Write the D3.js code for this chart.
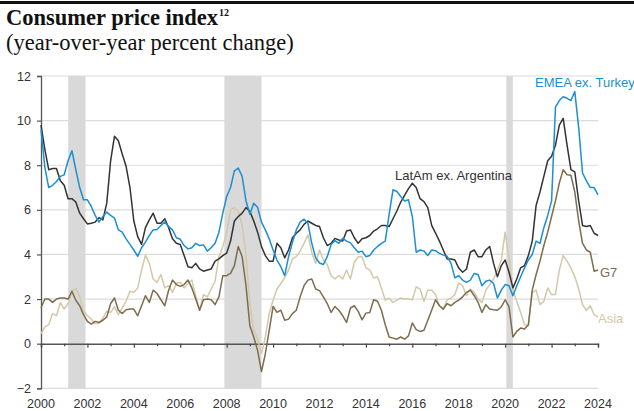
<!DOCTYPE html>
<html>
<head>
<meta charset="utf-8">
<script src="https://cdn.jsdelivr.net/npm/d3@7"></script>
<style>
  html, body { margin: 0; padding: 0; background: #fff; }
  svg { display: block; }
</style>
</head>
<body>
<svg id="chart" width="634" height="411"></svg>
<script>
// ---- Data (bi-monthly samples, Jan 2000 ... Jan 2024) ----
const startYear = 2000;
const stepYears = 1 / 6;

const latam = [
  9.8, 8.7, 7.8, 7.85, 7.85, 7.3,
  7.1, 6.5, 6.5, 6.35, 5.85, 5.6,
  5.37, 5.4, 5.45, 5.65, 5.55, 6.3,
  8.2, 9.3, 9.1, 8.5, 7.95, 7.0,
  5.5, 4.8, 4.45, 5.2, 5.55, 5.85,
  5.4, 5.4, 5.6, 5.2, 4.7, 4.5,
  4.45, 3.95, 3.45, 3.4, 3.6, 3.35,
  3.25, 3.3, 3.35, 3.7, 3.8, 3.95,
  4.06, 4.6, 5.5, 5.7, 5.85, 6.1,
  5.93, 5.5, 5.0, 4.35, 3.95, 3.7,
  3.7, 4.5, 4.3, 3.85, 4.2, 4.75,
  4.95, 5.1, 5.35, 5.5, 5.4, 5.3,
  5.25, 4.75, 4.4, 4.5, 4.72, 4.65,
  4.6, 5.05, 5.1, 4.75, 4.5, 4.7,
  4.75, 4.85, 5.05, 5.15, 5.3, 5.3,
  5.25, 5.6, 5.95, 6.35, 6.65, 6.95,
  7.19, 7.0, 6.5, 6.37, 6.1, 5.3,
  4.96, 4.6, 4.2, 3.8, 3.8, 3.75,
  3.39, 3.2, 3.35, 4.1, 4.2, 3.9,
  3.9, 4.2, 4.36, 3.6, 3.0, 3.5,
  3.75, 3.2, 2.5, 2.9, 3.4, 3.5,
  3.95, 4.6, 6.2, 6.8, 7.5, 8.2,
  8.4, 8.9, 9.8, 10.1, 8.9, 7.8,
  7.7, 6.4, 5.3, 5.25, 5.3, 4.95,
  4.85
];

const emea = [
  9.6, 7.9, 7.0, 7.1, 7.27, 7.5,
  7.57, 8.2, 8.65, 7.8, 7.0, 6.45,
  6.45, 6.15, 5.75, 5.45, 5.7, 5.9,
  5.75, 5.63, 5.1, 5.0, 4.7, 4.45,
  4.2, 3.92, 4.3, 4.55, 4.85, 5.1,
  5.12, 5.3, 5.45, 5.25, 5.1, 4.75,
  4.68, 4.4, 4.25, 4.3, 4.5, 4.4,
  4.43, 4.15, 4.3, 4.5, 5.0, 5.85,
  6.6, 7.0, 7.75, 7.87, 7.5, 6.4,
  5.8, 6.3, 6.1, 5.45, 5.1, 4.7,
  4.2, 3.75, 3.45, 3.05, 3.9, 4.55,
  5.1, 5.45, 5.58, 5.4, 4.5, 3.85,
  3.62, 3.55, 3.9, 4.45, 4.62, 4.5,
  4.72, 4.6, 4.52, 4.3, 4.1, 4.15,
  3.9, 3.95, 4.2, 4.36, 4.5, 4.6,
  5.8, 6.9, 6.82, 6.6, 6.4, 6.45,
  5.7, 4.1, 4.2, 4.15, 3.95, 4.2,
  4.17, 4.05, 3.97, 3.92, 3.6, 2.95,
  3.05, 2.85, 2.75, 2.85, 3.15, 3.1,
  2.6, 2.8, 2.85, 2.7, 2.05, 2.4,
  2.65, 2.6, 2.15, 2.6, 3.0, 3.4,
  3.75, 4.0, 4.6, 4.5, 5.2, 5.75,
  6.4, 10.6, 10.9, 11.07, 11.0, 10.9,
  11.3, 9.7, 7.65, 7.3, 7.0, 7.0,
  6.67
];

const g7 = [
  1.6, 2.0, 2.0, 1.85, 2.0, 2.05,
  2.05, 2.0, 2.35, 1.95, 1.7, 1.3,
  1.0, 0.88, 1.0, 0.95, 1.05, 1.2,
  1.8, 2.05, 1.5, 1.35, 1.52, 1.55,
  1.55, 1.25, 1.7, 2.15, 1.85, 2.4,
  2.25, 1.97, 1.7, 2.4, 2.85, 2.65,
  2.57, 2.65, 2.85, 2.5, 2.0, 1.5,
  1.97, 2.0, 1.97, 1.75, 2.1, 3.05,
  3.05, 3.15, 3.5, 4.36, 3.9, 2.6,
  0.8, 0.3, -0.3, -1.25, -0.45, 0.6,
  1.67, 1.4, 1.5, 1.05, 1.1, 1.35,
  1.5, 2.1, 2.6, 2.85, 2.9, 2.45,
  2.38, 2.1, 1.8, 1.4, 1.67, 1.5,
  1.25, 0.95, 1.6, 1.7, 1.45, 1.07,
  1.37, 1.4, 1.97, 1.9, 1.5, 0.85,
  0.3, 0.25, 0.2, 0.3, 0.2, 0.35,
  0.93, 0.63, 0.55, 0.6, 1.05, 1.5,
  1.97, 1.7, 1.55, 1.8, 1.7, 1.85,
  1.95, 2.1, 2.3, 2.4, 2.15, 1.85,
  1.4, 1.75, 1.55, 1.52, 1.5, 1.65,
  1.97, 1.65, 0.3, 0.55, 0.7, 0.66,
  0.85, 2.4, 3.1, 3.7, 4.4, 5.0,
  5.7, 6.4, 7.2, 7.8, 7.57, 7.55,
  6.8, 5.5, 4.5, 4.2, 4.1, 3.25,
  3.3
];

const asia = [
  0.45, 0.75, 0.85, 1.35, 1.25, 1.85,
  1.55, 1.8, 2.35, 2.48, 2.1, 1.45,
  1.25, 1.1, 0.9, 0.92, 1.15, 1.45,
  1.4, 1.65, 1.3, 1.6, 1.9, 2.35,
  2.3, 2.5, 3.3, 3.97, 3.6, 2.9,
  2.75, 3.1, 2.5, 2.6, 2.3, 2.7,
  2.75, 2.5, 2.7, 2.85, 2.15, 1.5,
  2.2, 2.1, 2.45, 2.8, 3.9, 4.35,
  5.0, 6.0, 6.1, 5.93, 5.3, 3.9,
  1.82, 0.6, 0.2, -0.45, 0.3, 1.35,
  1.95, 2.45, 2.7, 2.95, 3.3, 3.8,
  3.9, 4.15, 4.5, 4.88, 4.1, 3.6,
  4.2, 3.75, 3.55, 3.05, 2.9, 3.05,
  2.9, 3.3, 2.9, 3.65, 3.9, 3.9,
  3.4, 3.31, 2.94, 3.0, 2.5, 1.95,
  2.04, 1.85, 1.95, 2.05, 2.0, 2.0,
  1.97, 2.55, 2.45, 1.9, 2.4, 2.4,
  2.2, 1.7, 1.55, 1.97, 2.05, 2.2,
  2.72, 2.6, 2.15, 2.45, 2.3, 2.0,
  1.85, 2.4, 2.65, 2.9, 3.3, 3.75,
  5.0, 3.8, 2.4, 1.9, 1.4, 0.85,
  0.8, 2.3, 2.4, 1.75, 1.9, 2.5,
  2.2, 2.2, 3.3, 3.95, 3.7, 3.4,
  3.0, 2.45, 1.75, 1.5, 1.7, 1.3,
  1.2
];

const recessions = [[2001.17, 2001.92], [2007.9, 2009.5], [2020.05, 2020.33]];
const yTicks = [-2, 0, 2, 4, 6, 8, 10, 12];
const xLabelYears = [2000, 2002, 2004, 2006, 2008, 2010, 2012, 2014, 2016, 2018, 2020, 2022, 2024];

const seriesList = [
  { name: "Asia", values: asia, color: "#d3c8a8" },
  { name: "G7", values: g7, color: "#7d6c4e" },
  { name: "LatAm ex. Argentina", values: latam, color: "#333333" },
  { name: "EMEA ex. Turkey", values: emea, color: "#1b8fd2" }
];

// ---- Drawing ----
const svg = d3.select("#chart");
const x = d3.scaleLinear().domain([2000, 2024]).range([41, 598]);
const y = d3.scaleLinear().domain([-2, 12]).range([388.3, 76]);

// top rule
svg.append("rect").attr("x", 0).attr("y", 1).attr("width", 634).attr("height", 3).attr("fill", "#111");

// title
const serif = "'Liberation Serif', 'Times New Roman', serif";
const title = svg.append("text")
  .attr("x", 6).attr("y", 25)
  .attr("font-family", serif)
  .attr("font-weight", "bold").attr("font-size", 22.5).attr("fill", "#111")
  .text("Consumer price index");
title.append("tspan").attr("font-size", 10).attr("dy", -9).attr("dx", 1).text("12");

svg.append("text")
  .attr("x", 6).attr("y", 50)
  .attr("font-family", serif)
  .attr("font-size", 22.5).attr("fill", "#111")
  .text("(year-over-year percent change)");

// gridlines
svg.append("g").selectAll("line").data(yTicks.filter(d => d !== 0)).join("line")
  .attr("x1", x(2000)).attr("x2", x(2024))
  .attr("y1", d => y(d)).attr("y2", d => y(d))
  .attr("stroke", "#dcdcdc").attr("stroke-width", 1.2);

// recession bands
svg.append("g").selectAll("rect").data(recessions).join("rect")
  .attr("x", d => x(d[0])).attr("width", d => x(d[1]) - x(d[0]))
  .attr("y", y(12)).attr("height", y(-2) - y(12))
  .attr("fill", "#d9d9d9");

// y axis
const yAxis = d3.axisLeft(y).tickValues(yTicks).tickSize(4).tickPadding(6).tickFormat(d3.format("d"));
const gy = svg.append("g").attr("transform", `translate(${x(2000)},0)`).call(yAxis);
gy.select(".domain").attr("stroke", "#555").attr("stroke-width", 1.3);
gy.selectAll(".tick line").attr("stroke", "#555").attr("stroke-width", 1.2);
gy.selectAll(".tick text").attr("font-family", "'Liberation Sans', Arial, sans-serif")
  .attr("font-size", 12.5).attr("fill", "#333");

// x axis at zero line
const xAxis = d3.axisBottom(x).tickValues(d3.range(2000, 2025, 1)).tickSize(3.5).tickFormat("");
const gx = svg.append("g").attr("transform", `translate(0,${y(0)})`).call(xAxis);
gx.select(".domain").attr("stroke", "#555").attr("stroke-width", 1.4);
gx.selectAll(".tick line").attr("stroke", "#444").attr("stroke-width", 1.2)
  .attr("y2", d => (d % 2 === 0 ? 4 : 2.5));

// x labels at bottom
svg.append("g").selectAll("text").data(xLabelYears).join("text")
  .attr("x", d => x(d)).attr("y", 408)
  .attr("text-anchor", "middle")
  .attr("font-family", "'Liberation Sans', Arial, sans-serif")
  .attr("font-size", 12.5).attr("fill", "#333")
  .text(d => d);

// lines
const line = d3.line()
  .x((d, i) => x(startYear + i * stepYears))
  .y(d => y(d));

svg.append("g").selectAll("path").data(seriesList).join("path")
  .attr("d", d => line(d.values))
  .attr("fill", "none")
  .attr("stroke", d => d.color)
  .attr("stroke-width", 1.5)
  .attr("stroke-linejoin", "round");

// series labels
const labelFont = "'Liberation Sans', Arial, sans-serif";
const labels = [
  { text: "EMEA ex. Turkey", x: 535, y: 87, color: "#1b8fd2" },
  { text: "LatAm ex. Argentina", x: 395, y: 180, color: "#333333" },
  { text: "G7", x: 600, y: 277, color: "#7d6c4e" },
  { text: "Asia", x: 598, y: 323, color: "#d3c8a8" }
];
svg.append("g").selectAll("text").data(labels).join("text")
  .attr("x", d => d.x).attr("y", d => d.y)
  .attr("font-family", labelFont).attr("font-size", 13)
  .attr("fill", d => d.color)
  .text(d => d.text);
</script>
</body>
</html>
